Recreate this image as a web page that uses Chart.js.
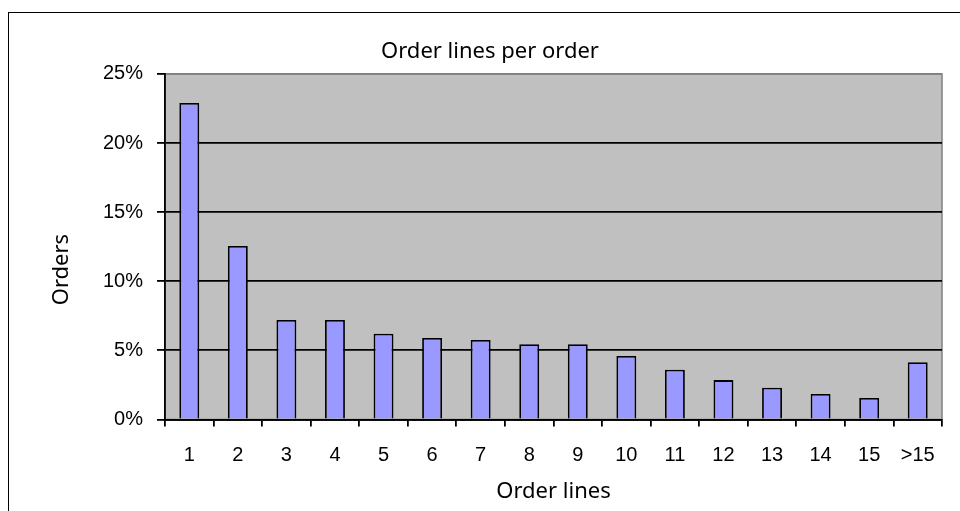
<!DOCTYPE html>
<html>
<head>
<meta charset="utf-8">
<script src="https://cdn.jsdelivr.net/npm/chart.js@4"></script>
<style>
  html, body { margin: 0; padding: 0; background: #fff; }
  #wrap { position: relative; width: 960px; height: 511px; overflow: hidden; }
  #frame { position: absolute; left: 8px; top: 12px; width: 1000px; height: 600px; border: 1.5px solid #000; box-sizing: border-box; }
  canvas { position: absolute; left: 0; top: 0; }
</style>
</head>
<body>
<div id="wrap">
  <div id="frame"></div>
  <canvas id="orderChart" width="960" height="511"></canvas>
</div>
<script>
const categories = ['1', '2', '3', '4', '5', '6', '7', '8', '9', '10', '11', '12', '13', '14', '15', '>15'];
const orderShare = [22.9, 12.55, 7.2, 7.2, 6.2, 5.9, 5.75, 5.45, 5.45, 4.6, 3.6, 2.85, 2.3, 1.85, 1.55, 4.15];
const yTicks = [0, 5, 10, 15, 20, 25];

// grey plot area with a grey frame, like the spreadsheet original
const plotArea = {
    id: 'plotArea',
    beforeDraw(chart) {
        const { ctx, chartArea: a } = chart;
        ctx.save();
        ctx.fillStyle = '#C0C0C0';
        ctx.fillRect(a.left, a.top, a.right - a.left, a.bottom - a.top);
        ctx.strokeStyle = '#808080';
        ctx.lineWidth = 1.5;
        ctx.strokeRect(a.left, a.top, a.right - a.left, a.bottom - a.top);
        ctx.restore();
    }
};

const tickFont = { family: '"Liberation Sans", Arial, sans-serif', size: 20 };
const titleFont = { family: '"Noto Sans", "Open Sans", sans-serif', size: 22 };

new Chart(document.getElementById('orderChart'), {
    type: 'bar',
    data: {
        labels: categories,
        datasets: [{
            data: orderShare,
            backgroundColor: '#9999FF',
            borderColor: '#000',
            borderWidth: 1.8,
            borderSkipped: 'bottom',
            barPercentage: 0.41,
            categoryPercentage: 1
        }]
    },
    options: {
        responsive: false,
        animation: false,
        layout: { padding: { left: 38, right: 18, top: 0, bottom: 0 } },
        plugins: {
            legend: { display: false },
            tooltip: { enabled: false },
            title: {
                display: true,
                text: 'Order lines per order',
                color: '#000',
                font: { ...titleFont, weight: 'normal' },
                padding: { top: 39, bottom: 8.5 }
            }
        },
        scales: {
            x: {
                afterFit(scale) { scale.height = 91.5; },
                grid: { drawOnChartArea: false, drawTicks: true, tickLength: 7, color: '#000', lineWidth: 1.8, offset: true },
                border: { display: true, color: '#000', width: 1.8 },
                ticks: { color: '#000', font: tickFont, padding: 17, maxRotation: 0, autoSkip: false },
                title: { display: true, text: 'Order lines', color: '#000', font: titleFont, padding: { top: 8, bottom: 6 } }
            },
            y: {
                min: 0,
                max: 25,
                afterFit(scale) { scale.width = 127; },
                afterBuildTicks(scale) { scale.ticks = yTicks.map(v => ({ value: v })); },
                grid: {
                    color: ctx => (ctx.tick && ctx.tick.value === 25 ? '#808080' : '#000'),
                    tickColor: '#000',
                    lineWidth: 1.8,
                    tickLength: 8
                },
                border: { display: true, color: '#000', width: 1.8 },
                ticks: { color: '#000', font: tickFont, padding: 14, callback: v => v + '%' },
                // trailing spaces push the rotated title a little lower, as in the original
                title: { display: true, text: 'Orders' + ' '.repeat(8), color: '#000', font: titleFont, padding: { top: 11, bottom: 0 } }
            }
        }
    },
    plugins: [plotArea]
});
</script>
</body>
</html>
